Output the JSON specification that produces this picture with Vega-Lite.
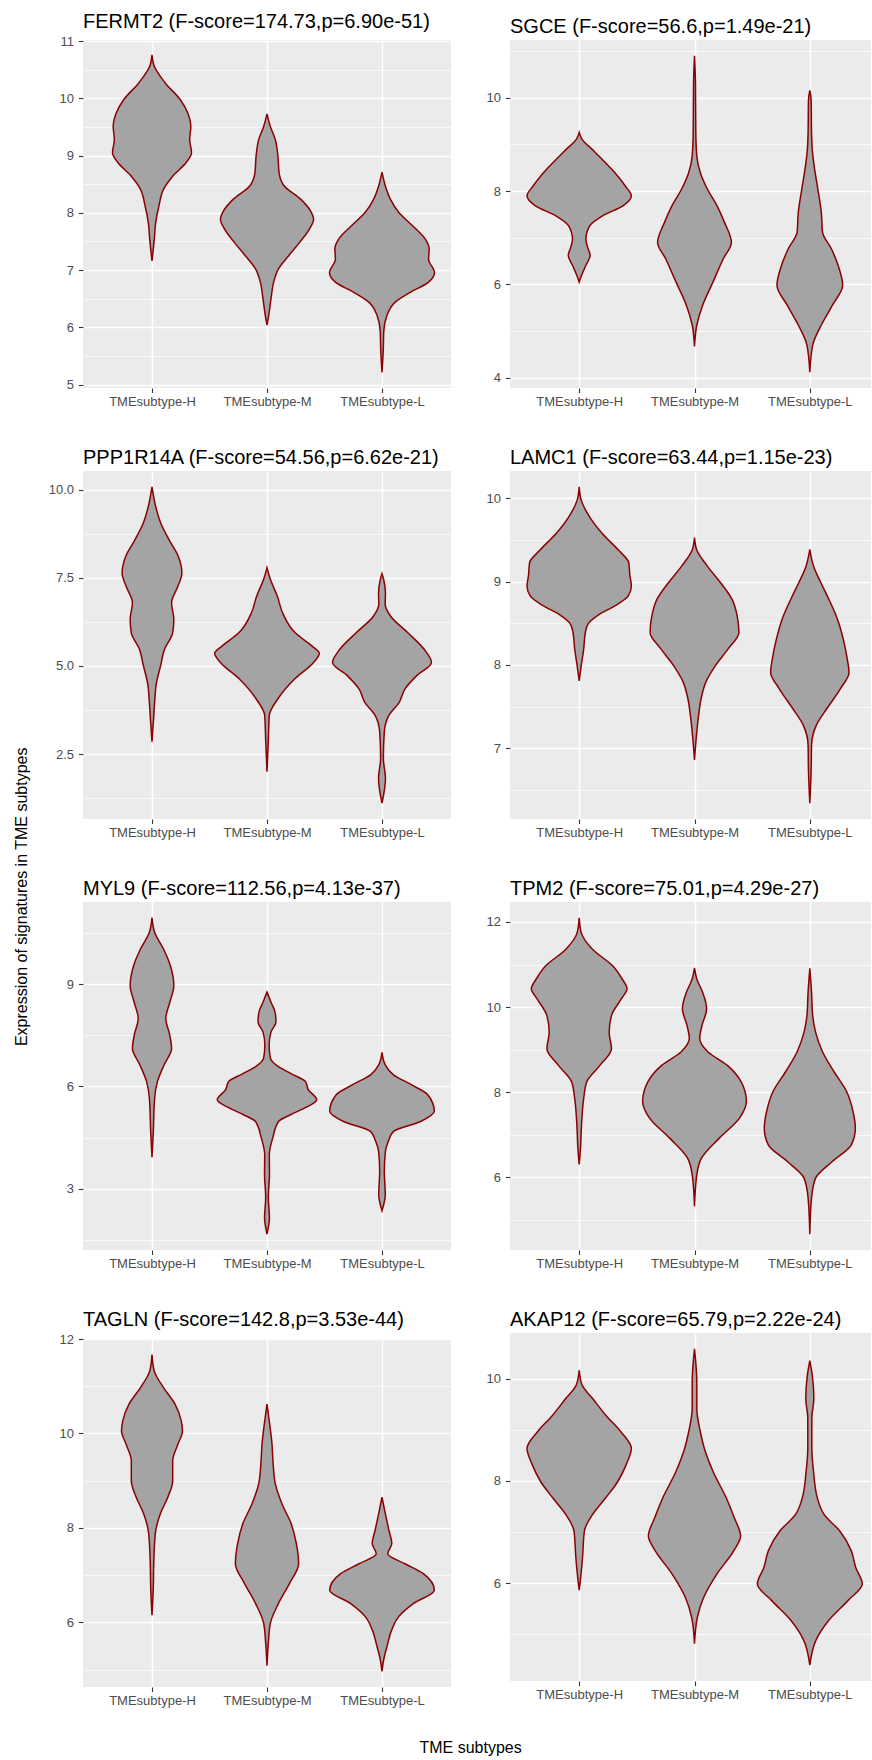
{
"$schema":"https://vega.github.io/schema/vega-lite/v6.json",
"padding":{"left":14,"top":12,"right":0,"bottom":2},
"title":{"text":"Expression of signatures in TME subtypes","orient":"left","anchor":"middle","frame":"bounds","fontSize":16,"baseline":"bottom","offset":2,"dx":-13},
"datasets":{"violin":[
{"gene":"FERMT2","subtype":"TMEsubtype-H","value":10.76,"density":0},{"gene":"FERMT2","subtype":"TMEsubtype-H","value":10.56,"density":0.04},{"gene":"FERMT2","subtype":"TMEsubtype-H","value":10.27,"density":0.23},{"gene":"FERMT2","subtype":"TMEsubtype-H","value":9.98,"density":0.49},{"gene":"FERMT2","subtype":"TMEsubtype-H","value":9.75,"density":0.62},{"gene":"FERMT2","subtype":"TMEsubtype-H","value":9.51,"density":0.675},{"gene":"FERMT2","subtype":"TMEsubtype-H","value":9.28,"density":0.655},{"gene":"FERMT2","subtype":"TMEsubtype-H","value":9.05,"density":0.687},{"gene":"FERMT2","subtype":"TMEsubtype-H","value":8.88,"density":0.594},{"gene":"FERMT2","subtype":"TMEsubtype-H","value":8.64,"density":0.36},{"gene":"FERMT2","subtype":"TMEsubtype-H","value":8.41,"density":0.2},{"gene":"FERMT2","subtype":"TMEsubtype-H","value":8.12,"density":0.12},{"gene":"FERMT2","subtype":"TMEsubtype-H","value":7.83,"density":0.064},{"gene":"FERMT2","subtype":"TMEsubtype-H","value":7.54,"density":0.04},{"gene":"FERMT2","subtype":"TMEsubtype-H","value":7.16,"density":0},
{"gene":"FERMT2","subtype":"TMEsubtype-M","value":9.73,"density":0},{"gene":"FERMT2","subtype":"TMEsubtype-M","value":9.51,"density":0.058},{"gene":"FERMT2","subtype":"TMEsubtype-M","value":9.28,"density":0.145},{"gene":"FERMT2","subtype":"TMEsubtype-M","value":8.99,"density":0.19},{"gene":"FERMT2","subtype":"TMEsubtype-M","value":8.7,"density":0.21},{"gene":"FERMT2","subtype":"TMEsubtype-M","value":8.47,"density":0.3},{"gene":"FERMT2","subtype":"TMEsubtype-M","value":8.24,"density":0.585},{"gene":"FERMT2","subtype":"TMEsubtype-M","value":8.01,"density":0.77},{"gene":"FERMT2","subtype":"TMEsubtype-M","value":7.89,"density":0.81},{"gene":"FERMT2","subtype":"TMEsubtype-M","value":7.72,"density":0.74},{"gene":"FERMT2","subtype":"TMEsubtype-M","value":7.48,"density":0.565},{"gene":"FERMT2","subtype":"TMEsubtype-M","value":7.25,"density":0.377},{"gene":"FERMT2","subtype":"TMEsubtype-M","value":7.02,"density":0.2},{"gene":"FERMT2","subtype":"TMEsubtype-M","value":6.79,"density":0.116},{"gene":"FERMT2","subtype":"TMEsubtype-M","value":6.5,"density":0.07},{"gene":"FERMT2","subtype":"TMEsubtype-M","value":6.21,"density":0.03},{"gene":"FERMT2","subtype":"TMEsubtype-M","value":6.04,"density":0},
{"gene":"FERMT2","subtype":"TMEsubtype-L","value":8.71,"density":0},{"gene":"FERMT2","subtype":"TMEsubtype-L","value":8.47,"density":0.058},{"gene":"FERMT2","subtype":"TMEsubtype-L","value":8.24,"density":0.145},{"gene":"FERMT2","subtype":"TMEsubtype-L","value":8.01,"density":0.29},{"gene":"FERMT2","subtype":"TMEsubtype-L","value":7.77,"density":0.536},{"gene":"FERMT2","subtype":"TMEsubtype-L","value":7.54,"density":0.754},{"gene":"FERMT2","subtype":"TMEsubtype-L","value":7.37,"density":0.82},{"gene":"FERMT2","subtype":"TMEsubtype-L","value":7.19,"density":0.81},{"gene":"FERMT2","subtype":"TMEsubtype-L","value":6.96,"density":0.913},{"gene":"FERMT2","subtype":"TMEsubtype-L","value":6.79,"density":0.81},{"gene":"FERMT2","subtype":"TMEsubtype-L","value":6.61,"density":0.49},{"gene":"FERMT2","subtype":"TMEsubtype-L","value":6.44,"density":0.23},{"gene":"FERMT2","subtype":"TMEsubtype-L","value":6.21,"density":0.087},{"gene":"FERMT2","subtype":"TMEsubtype-L","value":5.92,"density":0.03},{"gene":"FERMT2","subtype":"TMEsubtype-L","value":5.63,"density":0.023},{"gene":"FERMT2","subtype":"TMEsubtype-L","value":5.21,"density":0},
{"gene":"SGCE","subtype":"TMEsubtype-H","value":9.26,"density":0},{"gene":"SGCE","subtype":"TMEsubtype-H","value":9.11,"density":0.05},{"gene":"SGCE","subtype":"TMEsubtype-H","value":8.89,"density":0.23},{"gene":"SGCE","subtype":"TMEsubtype-H","value":8.68,"density":0.4},{"gene":"SGCE","subtype":"TMEsubtype-H","value":8.4,"density":0.616},{"gene":"SGCE","subtype":"TMEsubtype-H","value":8.11,"density":0.8},{"gene":"SGCE","subtype":"TMEsubtype-H","value":7.9,"density":0.905},{"gene":"SGCE","subtype":"TMEsubtype-H","value":7.69,"density":0.766},{"gene":"SGCE","subtype":"TMEsubtype-H","value":7.47,"density":0.405},{"gene":"SGCE","subtype":"TMEsubtype-H","value":7.26,"density":0.185},{"gene":"SGCE","subtype":"TMEsubtype-H","value":6.97,"density":0.116},{"gene":"SGCE","subtype":"TMEsubtype-H","value":6.8,"density":0.145},{"gene":"SGCE","subtype":"TMEsubtype-H","value":6.62,"density":0.19},{"gene":"SGCE","subtype":"TMEsubtype-H","value":6.41,"density":0.116},{"gene":"SGCE","subtype":"TMEsubtype-H","value":6.19,"density":0.04},{"gene":"SGCE","subtype":"TMEsubtype-H","value":6.05,"density":0},
{"gene":"SGCE","subtype":"TMEsubtype-M","value":10.9,"density":0},{"gene":"SGCE","subtype":"TMEsubtype-M","value":10.31,"density":0.017},{"gene":"SGCE","subtype":"TMEsubtype-M","value":9.25,"density":0.023},{"gene":"SGCE","subtype":"TMEsubtype-M","value":8.75,"density":0.04},{"gene":"SGCE","subtype":"TMEsubtype-M","value":8.4,"density":0.1},{"gene":"SGCE","subtype":"TMEsubtype-M","value":8.04,"density":0.225},{"gene":"SGCE","subtype":"TMEsubtype-M","value":7.69,"density":0.39},{"gene":"SGCE","subtype":"TMEsubtype-M","value":7.33,"density":0.52},{"gene":"SGCE","subtype":"TMEsubtype-M","value":6.9,"density":0.64},{"gene":"SGCE","subtype":"TMEsubtype-M","value":6.55,"density":0.5},{"gene":"SGCE","subtype":"TMEsubtype-M","value":6.05,"density":0.32},{"gene":"SGCE","subtype":"TMEsubtype-M","value":5.55,"density":0.14},{"gene":"SGCE","subtype":"TMEsubtype-M","value":5.13,"density":0.04},{"gene":"SGCE","subtype":"TMEsubtype-M","value":4.67,"density":0},
{"gene":"SGCE","subtype":"TMEsubtype-L","value":10.16,"density":0},{"gene":"SGCE","subtype":"TMEsubtype-L","value":9.96,"density":0.023},{"gene":"SGCE","subtype":"TMEsubtype-L","value":9.25,"density":0.03},{"gene":"SGCE","subtype":"TMEsubtype-L","value":8.89,"density":0.043},{"gene":"SGCE","subtype":"TMEsubtype-L","value":8.54,"density":0.075},{"gene":"SGCE","subtype":"TMEsubtype-L","value":8.04,"density":0.14},{"gene":"SGCE","subtype":"TMEsubtype-L","value":7.54,"density":0.2},{"gene":"SGCE","subtype":"TMEsubtype-L","value":7.12,"density":0.22},{"gene":"SGCE","subtype":"TMEsubtype-L","value":6.76,"density":0.376},{"gene":"SGCE","subtype":"TMEsubtype-L","value":6.41,"density":0.49},{"gene":"SGCE","subtype":"TMEsubtype-L","value":5.98,"density":0.57},{"gene":"SGCE","subtype":"TMEsubtype-L","value":5.55,"density":0.39},{"gene":"SGCE","subtype":"TMEsubtype-L","value":5.13,"density":0.2},{"gene":"SGCE","subtype":"TMEsubtype-L","value":4.7,"density":0.05},{"gene":"SGCE","subtype":"TMEsubtype-L","value":4.12,"density":0},
{"gene":"PPP1R14A","subtype":"TMEsubtype-H","value":10.08,"density":0},{"gene":"PPP1R14A","subtype":"TMEsubtype-H","value":9.51,"density":0.066},{"gene":"PPP1R14A","subtype":"TMEsubtype-H","value":9.04,"density":0.155},{"gene":"PPP1R14A","subtype":"TMEsubtype-H","value":8.57,"density":0.3},{"gene":"PPP1R14A","subtype":"TMEsubtype-H","value":8.1,"density":0.46},{"gene":"PPP1R14A","subtype":"TMEsubtype-H","value":7.63,"density":0.52},{"gene":"PPP1R14A","subtype":"TMEsubtype-H","value":7.26,"density":0.45},{"gene":"PPP1R14A","subtype":"TMEsubtype-H","value":6.79,"density":0.34},{"gene":"PPP1R14A","subtype":"TMEsubtype-H","value":6.32,"density":0.38},{"gene":"PPP1R14A","subtype":"TMEsubtype-H","value":5.94,"density":0.36},{"gene":"PPP1R14A","subtype":"TMEsubtype-H","value":5.48,"density":0.22},{"gene":"PPP1R14A","subtype":"TMEsubtype-H","value":5.01,"density":0.15},{"gene":"PPP1R14A","subtype":"TMEsubtype-H","value":4.45,"density":0.07},{"gene":"PPP1R14A","subtype":"TMEsubtype-H","value":4.07,"density":0.05},{"gene":"PPP1R14A","subtype":"TMEsubtype-H","value":3.41,"density":0.024},{"gene":"PPP1R14A","subtype":"TMEsubtype-H","value":2.85,"density":0},
{"gene":"PPP1R14A","subtype":"TMEsubtype-M","value":7.79,"density":0},{"gene":"PPP1R14A","subtype":"TMEsubtype-M","value":7.45,"density":0.06},{"gene":"PPP1R14A","subtype":"TMEsubtype-M","value":6.98,"density":0.18},{"gene":"PPP1R14A","subtype":"TMEsubtype-M","value":6.51,"density":0.27},{"gene":"PPP1R14A","subtype":"TMEsubtype-M","value":5.94,"density":0.49},{"gene":"PPP1R14A","subtype":"TMEsubtype-M","value":5.57,"density":0.78},{"gene":"PPP1R14A","subtype":"TMEsubtype-M","value":5.36,"density":0.91},{"gene":"PPP1R14A","subtype":"TMEsubtype-M","value":5.1,"density":0.81},{"gene":"PPP1R14A","subtype":"TMEsubtype-M","value":4.63,"density":0.48},{"gene":"PPP1R14A","subtype":"TMEsubtype-M","value":4.07,"density":0.19},{"gene":"PPP1R14A","subtype":"TMEsubtype-M","value":3.6,"density":0.04},{"gene":"PPP1R14A","subtype":"TMEsubtype-M","value":2.94,"density":0.024},{"gene":"PPP1R14A","subtype":"TMEsubtype-M","value":2.0,"density":0},
{"gene":"PPP1R14A","subtype":"TMEsubtype-L","value":7.62,"density":0},{"gene":"PPP1R14A","subtype":"TMEsubtype-L","value":7.45,"density":0.03},{"gene":"PPP1R14A","subtype":"TMEsubtype-L","value":7.07,"density":0.06},{"gene":"PPP1R14A","subtype":"TMEsubtype-L","value":6.75,"density":0.055},{"gene":"PPP1R14A","subtype":"TMEsubtype-L","value":6.41,"density":0.15},{"gene":"PPP1R14A","subtype":"TMEsubtype-L","value":5.94,"density":0.45},{"gene":"PPP1R14A","subtype":"TMEsubtype-L","value":5.48,"density":0.73},{"gene":"PPP1R14A","subtype":"TMEsubtype-L","value":5.1,"density":0.86},{"gene":"PPP1R14A","subtype":"TMEsubtype-L","value":4.72,"density":0.6},{"gene":"PPP1R14A","subtype":"TMEsubtype-L","value":4.35,"density":0.4},{"gene":"PPP1R14A","subtype":"TMEsubtype-L","value":3.97,"density":0.3},{"gene":"PPP1R14A","subtype":"TMEsubtype-L","value":3.6,"density":0.12},{"gene":"PPP1R14A","subtype":"TMEsubtype-L","value":3.13,"density":0.04},{"gene":"PPP1R14A","subtype":"TMEsubtype-L","value":2.38,"density":0.024},{"gene":"PPP1R14A","subtype":"TMEsubtype-L","value":1.81,"density":0.06},{"gene":"PPP1R14A","subtype":"TMEsubtype-L","value":1.11,"density":0},
{"gene":"LAMC1","subtype":"TMEsubtype-H","value":10.14,"density":0},{"gene":"LAMC1","subtype":"TMEsubtype-H","value":9.98,"density":0.035},{"gene":"LAMC1","subtype":"TMEsubtype-H","value":9.78,"density":0.18},{"gene":"LAMC1","subtype":"TMEsubtype-H","value":9.58,"density":0.4},{"gene":"LAMC1","subtype":"TMEsubtype-H","value":9.38,"density":0.68},{"gene":"LAMC1","subtype":"TMEsubtype-H","value":9.23,"density":0.86},{"gene":"LAMC1","subtype":"TMEsubtype-H","value":9.07,"density":0.88},{"gene":"LAMC1","subtype":"TMEsubtype-H","value":8.95,"density":0.905},{"gene":"LAMC1","subtype":"TMEsubtype-H","value":8.83,"density":0.85},{"gene":"LAMC1","subtype":"TMEsubtype-H","value":8.71,"density":0.62},{"gene":"LAMC1","subtype":"TMEsubtype-H","value":8.6,"density":0.33},{"gene":"LAMC1","subtype":"TMEsubtype-H","value":8.5,"density":0.16},{"gene":"LAMC1","subtype":"TMEsubtype-H","value":8.39,"density":0.107},{"gene":"LAMC1","subtype":"TMEsubtype-H","value":8.19,"density":0.078},{"gene":"LAMC1","subtype":"TMEsubtype-H","value":7.99,"density":0.035},{"gene":"LAMC1","subtype":"TMEsubtype-H","value":7.81,"density":0},
{"gene":"LAMC1","subtype":"TMEsubtype-M","value":9.53,"density":0},{"gene":"LAMC1","subtype":"TMEsubtype-M","value":9.38,"density":0.04},{"gene":"LAMC1","subtype":"TMEsubtype-M","value":9.19,"density":0.22},{"gene":"LAMC1","subtype":"TMEsubtype-M","value":8.99,"density":0.45},{"gene":"LAMC1","subtype":"TMEsubtype-M","value":8.79,"density":0.65},{"gene":"LAMC1","subtype":"TMEsubtype-M","value":8.59,"density":0.74},{"gene":"LAMC1","subtype":"TMEsubtype-M","value":8.39,"density":0.77},{"gene":"LAMC1","subtype":"TMEsubtype-M","value":8.19,"density":0.58},{"gene":"LAMC1","subtype":"TMEsubtype-M","value":7.99,"density":0.36},{"gene":"LAMC1","subtype":"TMEsubtype-M","value":7.8,"density":0.2},{"gene":"LAMC1","subtype":"TMEsubtype-M","value":7.6,"density":0.116},{"gene":"LAMC1","subtype":"TMEsubtype-M","value":7.4,"density":0.072},{"gene":"LAMC1","subtype":"TMEsubtype-M","value":7.12,"density":0.03},{"gene":"LAMC1","subtype":"TMEsubtype-M","value":6.86,"density":0},
{"gene":"LAMC1","subtype":"TMEsubtype-L","value":9.39,"density":0},{"gene":"LAMC1","subtype":"TMEsubtype-L","value":9.19,"density":0.064},{"gene":"LAMC1","subtype":"TMEsubtype-L","value":8.99,"density":0.19},{"gene":"LAMC1","subtype":"TMEsubtype-L","value":8.79,"density":0.33},{"gene":"LAMC1","subtype":"TMEsubtype-L","value":8.55,"density":0.48},{"gene":"LAMC1","subtype":"TMEsubtype-L","value":8.31,"density":0.58},{"gene":"LAMC1","subtype":"TMEsubtype-L","value":8.07,"density":0.65},{"gene":"LAMC1","subtype":"TMEsubtype-L","value":7.91,"density":0.68},{"gene":"LAMC1","subtype":"TMEsubtype-L","value":7.72,"density":0.535},{"gene":"LAMC1","subtype":"TMEsubtype-L","value":7.48,"density":0.3},{"gene":"LAMC1","subtype":"TMEsubtype-L","value":7.28,"density":0.116},{"gene":"LAMC1","subtype":"TMEsubtype-L","value":7.04,"density":0.03},{"gene":"LAMC1","subtype":"TMEsubtype-L","value":6.72,"density":0.023},{"gene":"LAMC1","subtype":"TMEsubtype-L","value":6.34,"density":0},
{"gene":"MYL9","subtype":"TMEsubtype-H","value":10.95,"density":0},{"gene":"MYL9","subtype":"TMEsubtype-H","value":10.52,"density":0.045},{"gene":"MYL9","subtype":"TMEsubtype-H","value":10.03,"density":0.2},{"gene":"MYL9","subtype":"TMEsubtype-H","value":9.54,"density":0.32},{"gene":"MYL9","subtype":"TMEsubtype-H","value":8.96,"density":0.38},{"gene":"MYL9","subtype":"TMEsubtype-H","value":8.47,"density":0.31},{"gene":"MYL9","subtype":"TMEsubtype-H","value":7.99,"density":0.24},{"gene":"MYL9","subtype":"TMEsubtype-H","value":7.5,"density":0.31},{"gene":"MYL9","subtype":"TMEsubtype-H","value":7.11,"density":0.34},{"gene":"MYL9","subtype":"TMEsubtype-H","value":6.63,"density":0.21},{"gene":"MYL9","subtype":"TMEsubtype-H","value":6.14,"density":0.094},{"gene":"MYL9","subtype":"TMEsubtype-H","value":5.65,"density":0.045},{"gene":"MYL9","subtype":"TMEsubtype-H","value":4.68,"density":0.023},{"gene":"MYL9","subtype":"TMEsubtype-H","value":3.92,"density":0},
{"gene":"MYL9","subtype":"TMEsubtype-M","value":8.77,"density":0},{"gene":"MYL9","subtype":"TMEsubtype-M","value":8.47,"density":0.07},{"gene":"MYL9","subtype":"TMEsubtype-M","value":8.18,"density":0.14},{"gene":"MYL9","subtype":"TMEsubtype-M","value":7.89,"density":0.156},{"gene":"MYL9","subtype":"TMEsubtype-M","value":7.6,"density":0.07},{"gene":"MYL9","subtype":"TMEsubtype-M","value":7.21,"density":0.037},{"gene":"MYL9","subtype":"TMEsubtype-M","value":6.82,"density":0.06},{"gene":"MYL9","subtype":"TMEsubtype-M","value":6.6,"density":0.18},{"gene":"MYL9","subtype":"TMEsubtype-M","value":6.38,"density":0.41},{"gene":"MYL9","subtype":"TMEsubtype-M","value":6.14,"density":0.67},{"gene":"MYL9","subtype":"TMEsubtype-M","value":5.9,"density":0.72},{"gene":"MYL9","subtype":"TMEsubtype-M","value":5.61,"density":0.865},{"gene":"MYL9","subtype":"TMEsubtype-M","value":5.36,"density":0.65},{"gene":"MYL9","subtype":"TMEsubtype-M","value":5.16,"density":0.4},{"gene":"MYL9","subtype":"TMEsubtype-M","value":4.97,"density":0.2},{"gene":"MYL9","subtype":"TMEsubtype-M","value":4.49,"density":0.1},{"gene":"MYL9","subtype":"TMEsubtype-M","value":4.0,"density":0.04},{"gene":"MYL9","subtype":"TMEsubtype-M","value":3.42,"density":0.043},{"gene":"MYL9","subtype":"TMEsubtype-M","value":2.74,"density":0.023},{"gene":"MYL9","subtype":"TMEsubtype-M","value":2.15,"density":0.043},{"gene":"MYL9","subtype":"TMEsubtype-M","value":1.67,"density":0},
{"gene":"MYL9","subtype":"TMEsubtype-L","value":7.0,"density":0},{"gene":"MYL9","subtype":"TMEsubtype-L","value":6.63,"density":0.057},{"gene":"MYL9","subtype":"TMEsubtype-L","value":6.34,"density":0.2},{"gene":"MYL9","subtype":"TMEsubtype-L","value":6.05,"density":0.51},{"gene":"MYL9","subtype":"TMEsubtype-L","value":5.75,"density":0.8},{"gene":"MYL9","subtype":"TMEsubtype-L","value":5.27,"density":0.91},{"gene":"MYL9","subtype":"TMEsubtype-L","value":4.97,"density":0.67},{"gene":"MYL9","subtype":"TMEsubtype-L","value":4.68,"density":0.2},{"gene":"MYL9","subtype":"TMEsubtype-L","value":4.39,"density":0.11},{"gene":"MYL9","subtype":"TMEsubtype-L","value":4.1,"density":0.06},{"gene":"MYL9","subtype":"TMEsubtype-L","value":3.52,"density":0.04},{"gene":"MYL9","subtype":"TMEsubtype-L","value":2.83,"density":0.057},{"gene":"MYL9","subtype":"TMEsubtype-L","value":2.35,"density":0},
{"gene":"TPM2","subtype":"TMEsubtype-H","value":12.1,"density":0},{"gene":"TPM2","subtype":"TMEsubtype-H","value":11.75,"density":0.035},{"gene":"TPM2","subtype":"TMEsubtype-H","value":11.36,"density":0.23},{"gene":"TPM2","subtype":"TMEsubtype-H","value":10.97,"density":0.58},{"gene":"TPM2","subtype":"TMEsubtype-H","value":10.66,"density":0.745},{"gene":"TPM2","subtype":"TMEsubtype-H","value":10.43,"density":0.83},{"gene":"TPM2","subtype":"TMEsubtype-H","value":10.19,"density":0.73},{"gene":"TPM2","subtype":"TMEsubtype-H","value":9.8,"density":0.56},{"gene":"TPM2","subtype":"TMEsubtype-H","value":9.41,"density":0.52},{"gene":"TPM2","subtype":"TMEsubtype-H","value":9.02,"density":0.56},{"gene":"TPM2","subtype":"TMEsubtype-H","value":8.63,"density":0.36},{"gene":"TPM2","subtype":"TMEsubtype-H","value":8.24,"density":0.13},{"gene":"TPM2","subtype":"TMEsubtype-H","value":7.85,"density":0.078},{"gene":"TPM2","subtype":"TMEsubtype-H","value":7.23,"density":0.04},{"gene":"TPM2","subtype":"TMEsubtype-H","value":6.76,"density":0.026},{"gene":"TPM2","subtype":"TMEsubtype-H","value":6.3,"density":0},
{"gene":"TPM2","subtype":"TMEsubtype-M","value":10.92,"density":0},{"gene":"TPM2","subtype":"TMEsubtype-M","value":10.66,"density":0.04},{"gene":"TPM2","subtype":"TMEsubtype-M","value":10.35,"density":0.14},{"gene":"TPM2","subtype":"TMEsubtype-M","value":9.96,"density":0.21},{"gene":"TPM2","subtype":"TMEsubtype-M","value":9.57,"density":0.13},{"gene":"TPM2","subtype":"TMEsubtype-M","value":9.26,"density":0.09},{"gene":"TPM2","subtype":"TMEsubtype-M","value":8.95,"density":0.23},{"gene":"TPM2","subtype":"TMEsubtype-M","value":8.63,"density":0.57},{"gene":"TPM2","subtype":"TMEsubtype-M","value":8.24,"density":0.81},{"gene":"TPM2","subtype":"TMEsubtype-M","value":7.78,"density":0.9},{"gene":"TPM2","subtype":"TMEsubtype-M","value":7.39,"density":0.78},{"gene":"TPM2","subtype":"TMEsubtype-M","value":6.92,"density":0.43},{"gene":"TPM2","subtype":"TMEsubtype-M","value":6.45,"density":0.12},{"gene":"TPM2","subtype":"TMEsubtype-M","value":6.06,"density":0.04},{"gene":"TPM2","subtype":"TMEsubtype-M","value":5.32,"density":0},
{"gene":"TPM2","subtype":"TMEsubtype-L","value":10.91,"density":0},{"gene":"TPM2","subtype":"TMEsubtype-L","value":10.35,"density":0.03},{"gene":"TPM2","subtype":"TMEsubtype-L","value":9.8,"density":0.05},{"gene":"TPM2","subtype":"TMEsubtype-L","value":9.41,"density":0.1},{"gene":"TPM2","subtype":"TMEsubtype-L","value":8.95,"density":0.22},{"gene":"TPM2","subtype":"TMEsubtype-L","value":8.48,"density":0.42},{"gene":"TPM2","subtype":"TMEsubtype-L","value":8.01,"density":0.64},{"gene":"TPM2","subtype":"TMEsubtype-L","value":7.54,"density":0.75},{"gene":"TPM2","subtype":"TMEsubtype-L","value":7.15,"density":0.79},{"gene":"TPM2","subtype":"TMEsubtype-L","value":6.76,"density":0.72},{"gene":"TPM2","subtype":"TMEsubtype-L","value":6.37,"density":0.39},{"gene":"TPM2","subtype":"TMEsubtype-L","value":5.98,"density":0.1},{"gene":"TPM2","subtype":"TMEsubtype-L","value":5.52,"density":0.03},{"gene":"TPM2","subtype":"TMEsubtype-L","value":4.66,"density":0},
{"gene":"TAGLN","subtype":"TMEsubtype-H","value":11.67,"density":0},{"gene":"TAGLN","subtype":"TMEsubtype-H","value":11.32,"density":0.04},{"gene":"TAGLN","subtype":"TMEsubtype-H","value":10.97,"density":0.2},{"gene":"TAGLN","subtype":"TMEsubtype-H","value":10.62,"density":0.4},{"gene":"TAGLN","subtype":"TMEsubtype-H","value":10.26,"density":0.51},{"gene":"TAGLN","subtype":"TMEsubtype-H","value":10.05,"density":0.53},{"gene":"TAGLN","subtype":"TMEsubtype-H","value":9.77,"density":0.45},{"gene":"TAGLN","subtype":"TMEsubtype-H","value":9.42,"density":0.36},{"gene":"TAGLN","subtype":"TMEsubtype-H","value":9.0,"density":0.36},{"gene":"TAGLN","subtype":"TMEsubtype-H","value":8.65,"density":0.275},{"gene":"TAGLN","subtype":"TMEsubtype-H","value":8.3,"density":0.145},{"gene":"TAGLN","subtype":"TMEsubtype-H","value":7.88,"density":0.058},{"gene":"TAGLN","subtype":"TMEsubtype-H","value":7.24,"density":0.03},{"gene":"TAGLN","subtype":"TMEsubtype-H","value":6.75,"density":0.023},{"gene":"TAGLN","subtype":"TMEsubtype-H","value":6.15,"density":0},
{"gene":"TAGLN","subtype":"TMEsubtype-M","value":10.62,"density":0},{"gene":"TAGLN","subtype":"TMEsubtype-M","value":10.26,"density":0.04},{"gene":"TAGLN","subtype":"TMEsubtype-M","value":9.77,"density":0.087},{"gene":"TAGLN","subtype":"TMEsubtype-M","value":9.35,"density":0.107},{"gene":"TAGLN","subtype":"TMEsubtype-M","value":8.93,"density":0.145},{"gene":"TAGLN","subtype":"TMEsubtype-M","value":8.51,"density":0.26},{"gene":"TAGLN","subtype":"TMEsubtype-M","value":8.09,"density":0.42},{"gene":"TAGLN","subtype":"TMEsubtype-M","value":7.67,"density":0.51},{"gene":"TAGLN","subtype":"TMEsubtype-M","value":7.24,"density":0.55},{"gene":"TAGLN","subtype":"TMEsubtype-M","value":6.82,"density":0.39},{"gene":"TAGLN","subtype":"TMEsubtype-M","value":6.4,"density":0.2},{"gene":"TAGLN","subtype":"TMEsubtype-M","value":5.98,"density":0.058},{"gene":"TAGLN","subtype":"TMEsubtype-M","value":5.56,"density":0.023},{"gene":"TAGLN","subtype":"TMEsubtype-M","value":5.08,"density":0},
{"gene":"TAGLN","subtype":"TMEsubtype-L","value":8.65,"density":0},{"gene":"TAGLN","subtype":"TMEsubtype-L","value":8.37,"density":0.046},{"gene":"TAGLN","subtype":"TMEsubtype-L","value":7.95,"density":0.12},{"gene":"TAGLN","subtype":"TMEsubtype-L","value":7.67,"density":0.17},{"gene":"TAGLN","subtype":"TMEsubtype-L","value":7.45,"density":0.1},{"gene":"TAGLN","subtype":"TMEsubtype-L","value":7.24,"density":0.4},{"gene":"TAGLN","subtype":"TMEsubtype-L","value":7.03,"density":0.72},{"gene":"TAGLN","subtype":"TMEsubtype-L","value":6.68,"density":0.91},{"gene":"TAGLN","subtype":"TMEsubtype-L","value":6.4,"density":0.55},{"gene":"TAGLN","subtype":"TMEsubtype-L","value":6.12,"density":0.29},{"gene":"TAGLN","subtype":"TMEsubtype-L","value":5.84,"density":0.17},{"gene":"TAGLN","subtype":"TMEsubtype-L","value":5.49,"density":0.087},{"gene":"TAGLN","subtype":"TMEsubtype-L","value":5.21,"density":0.03},{"gene":"TAGLN","subtype":"TMEsubtype-L","value":4.96,"density":0},
{"gene":"AKAP12","subtype":"TMEsubtype-H","value":10.17,"density":0},{"gene":"AKAP12","subtype":"TMEsubtype-H","value":9.88,"density":0.05},{"gene":"AKAP12","subtype":"TMEsubtype-H","value":9.62,"density":0.23},{"gene":"AKAP12","subtype":"TMEsubtype-H","value":9.29,"density":0.46},{"gene":"AKAP12","subtype":"TMEsubtype-H","value":8.97,"density":0.72},{"gene":"AKAP12","subtype":"TMEsubtype-H","value":8.64,"density":0.905},{"gene":"AKAP12","subtype":"TMEsubtype-H","value":8.32,"density":0.815},{"gene":"AKAP12","subtype":"TMEsubtype-H","value":7.99,"density":0.67},{"gene":"AKAP12","subtype":"TMEsubtype-H","value":7.67,"density":0.46},{"gene":"AKAP12","subtype":"TMEsubtype-H","value":7.34,"density":0.23},{"gene":"AKAP12","subtype":"TMEsubtype-H","value":7.02,"density":0.09},{"gene":"AKAP12","subtype":"TMEsubtype-H","value":6.5,"density":0.058},{"gene":"AKAP12","subtype":"TMEsubtype-H","value":6.11,"density":0.026},{"gene":"AKAP12","subtype":"TMEsubtype-H","value":5.86,"density":0},
{"gene":"AKAP12","subtype":"TMEsubtype-M","value":10.59,"density":0},{"gene":"AKAP12","subtype":"TMEsubtype-M","value":9.94,"density":0.04},{"gene":"AKAP12","subtype":"TMEsubtype-M","value":9.42,"density":0.04},{"gene":"AKAP12","subtype":"TMEsubtype-M","value":8.97,"density":0.1},{"gene":"AKAP12","subtype":"TMEsubtype-M","value":8.64,"density":0.17},{"gene":"AKAP12","subtype":"TMEsubtype-M","value":8.19,"density":0.32},{"gene":"AKAP12","subtype":"TMEsubtype-M","value":7.67,"density":0.55},{"gene":"AKAP12","subtype":"TMEsubtype-M","value":7.28,"density":0.69},{"gene":"AKAP12","subtype":"TMEsubtype-M","value":6.92,"density":0.8},{"gene":"AKAP12","subtype":"TMEsubtype-M","value":6.63,"density":0.68},{"gene":"AKAP12","subtype":"TMEsubtype-M","value":6.18,"density":0.39},{"gene":"AKAP12","subtype":"TMEsubtype-M","value":5.72,"density":0.16},{"gene":"AKAP12","subtype":"TMEsubtype-M","value":5.33,"density":0.05},{"gene":"AKAP12","subtype":"TMEsubtype-M","value":4.81,"density":0},
{"gene":"AKAP12","subtype":"TMEsubtype-L","value":10.36,"density":0},{"gene":"AKAP12","subtype":"TMEsubtype-L","value":10.07,"density":0.043},{"gene":"AKAP12","subtype":"TMEsubtype-L","value":9.62,"density":0.07},{"gene":"AKAP12","subtype":"TMEsubtype-L","value":9.23,"density":0.035},{"gene":"AKAP12","subtype":"TMEsubtype-L","value":8.64,"density":0.035},{"gene":"AKAP12","subtype":"TMEsubtype-L","value":8.19,"density":0.064},{"gene":"AKAP12","subtype":"TMEsubtype-L","value":7.67,"density":0.13},{"gene":"AKAP12","subtype":"TMEsubtype-L","value":7.34,"density":0.25},{"gene":"AKAP12","subtype":"TMEsubtype-L","value":7.02,"density":0.52},{"gene":"AKAP12","subtype":"TMEsubtype-L","value":6.63,"density":0.72},{"gene":"AKAP12","subtype":"TMEsubtype-L","value":6.31,"density":0.795},{"gene":"AKAP12","subtype":"TMEsubtype-L","value":5.98,"density":0.91},{"gene":"AKAP12","subtype":"TMEsubtype-L","value":5.66,"density":0.665},{"gene":"AKAP12","subtype":"TMEsubtype-L","value":5.27,"density":0.33},{"gene":"AKAP12","subtype":"TMEsubtype-L","value":4.88,"density":0.107},{"gene":"AKAP12","subtype":"TMEsubtype-L","value":4.39,"density":0}
]},
"vconcat":[{
"title":{"text":"TME subtypes","orient":"bottom","anchor":"middle","frame":"bounds","fontSize":16,"baseline":"top","offset":32,"dx":7},
"spacing":35,
"hconcat":[
{"spacing":39,"vconcat":[
{"width":368,"height":348,"title":{"text":"FERMT2 (F-score=174.73,p=6.90e-51)"},"data":{"name":"violin"},"transform":[{"filter":"datum.gene === 'FERMT2'"}],
"layer":[
{"mark":{"type":"point","opacity":0},"encoding":{"x":{"field":"subtype","type":"nominal","scale":{"type":"point","padding":0.6,"domain":["TMEsubtype-H","TMEsubtype-M","TMEsubtype-L"]},"axis":{"title":null,"labelAngle":0,"grid":true}},"y":{"field":"value","type":"quantitative","scale":{"domain":[4.94,11.02],"nice":false,"zero":false},"axis":{"title":null,"values":[5,6,7,8,9,10,11],"grid":true}}}},
{"transform":[{"filter":"datum.subtype === 'TMEsubtype-H'"}],"mark":{"type":"area","orient":"horizontal","interpolate":"monotone","fill":"#A4A4A4","stroke":"#8B0000","strokeWidth":1.5},"encoding":{"x":{"field":"density","type":"quantitative","stack":"center","scale":{"domain":[-0.2565,2.9435],"nice":false,"zero":false},"axis":null},"y":{"field":"value","type":"quantitative","scale":{"domain":[4.94,11.02],"nice":false,"zero":false},"axis":{"orient":"right","title":null,"values":[5.5,6.5,7.5,8.5,9.5,10.5],"grid":true,"gridWidth":0.75,"labels":false,"ticks":false}}}},
{"transform":[{"filter":"datum.subtype === 'TMEsubtype-M'"}],"mark":{"type":"area","orient":"horizontal","interpolate":"monotone","fill":"#A4A4A4","stroke":"#8B0000","strokeWidth":1.5},"encoding":{"x":{"field":"density","type":"quantitative","stack":"center","scale":{"domain":[-1.195,2.005],"nice":false,"zero":false},"axis":null},"y":{"field":"value","type":"quantitative","scale":{"domain":[4.94,11.02],"nice":false,"zero":false},"axis":null}}},
{"transform":[{"filter":"datum.subtype === 'TMEsubtype-L'"}],"mark":{"type":"area","orient":"horizontal","interpolate":"monotone","fill":"#A4A4A4","stroke":"#8B0000","strokeWidth":1.5},"encoding":{"x":{"field":"density","type":"quantitative","stack":"center","scale":{"domain":[-2.1435,1.0565],"nice":false,"zero":false},"axis":null},"y":{"field":"value","type":"quantitative","scale":{"domain":[4.94,11.02],"nice":false,"zero":false},"axis":null}}}
],"resolve":{"scale":{"x":"independent"},"axis":{"x":"independent","y":"independent"}}},
{"width":368,"height":348,"title":{"text":"PPP1R14A (F-score=54.56,p=6.62e-21)"},"data":{"name":"violin"},"transform":[{"filter":"datum.gene === 'PPP1R14A'"}],
"layer":[
{"mark":{"type":"point","opacity":0},"encoding":{"x":{"field":"subtype","type":"nominal","scale":{"type":"point","padding":0.6,"domain":["TMEsubtype-H","TMEsubtype-M","TMEsubtype-L"]},"axis":{"title":null,"labelAngle":0,"grid":true}},"y":{"field":"value","type":"quantitative","scale":{"domain":[0.66,10.53],"nice":false,"zero":false},"axis":{"title":null,"values":[2.5,5,7.5,10],"format":".1f","grid":true}}}},
{"transform":[{"filter":"datum.subtype === 'TMEsubtype-H'"}],"mark":{"type":"area","orient":"horizontal","interpolate":"monotone","fill":"#A4A4A4","stroke":"#8B0000","strokeWidth":1.5},"encoding":{"x":{"field":"density","type":"quantitative","stack":"center","scale":{"domain":[-0.34,2.86],"nice":false,"zero":false},"axis":null},"y":{"field":"value","type":"quantitative","scale":{"domain":[0.66,10.53],"nice":false,"zero":false},"axis":{"orient":"right","title":null,"values":[1.25,3.75,6.25,8.75],"grid":true,"gridWidth":0.75,"labels":false,"ticks":false}}}},
{"transform":[{"filter":"datum.subtype === 'TMEsubtype-M'"}],"mark":{"type":"area","orient":"horizontal","interpolate":"monotone","fill":"#A4A4A4","stroke":"#8B0000","strokeWidth":1.5},"encoding":{"x":{"field":"density","type":"quantitative","stack":"center","scale":{"domain":[-1.145,2.055],"nice":false,"zero":false},"axis":null},"y":{"field":"value","type":"quantitative","scale":{"domain":[0.66,10.53],"nice":false,"zero":false},"axis":null}}},
{"transform":[{"filter":"datum.subtype === 'TMEsubtype-L'"}],"mark":{"type":"area","orient":"horizontal","interpolate":"monotone","fill":"#A4A4A4","stroke":"#8B0000","strokeWidth":1.5},"encoding":{"x":{"field":"density","type":"quantitative","stack":"center","scale":{"domain":[-2.17,1.03],"nice":false,"zero":false},"axis":null},"y":{"field":"value","type":"quantitative","scale":{"domain":[0.66,10.53],"nice":false,"zero":false},"axis":null}}}
],"resolve":{"scale":{"x":"independent"},"axis":{"x":"independent","y":"independent"}}},
{"width":368,"height":348,"title":{"text":"MYL9 (F-score=112.56,p=4.13e-37)"},"data":{"name":"violin"},"transform":[{"filter":"datum.gene === 'MYL9'"}],
"layer":[
{"mark":{"type":"point","opacity":0},"encoding":{"x":{"field":"subtype","type":"nominal","scale":{"type":"point","padding":0.6,"domain":["TMEsubtype-H","TMEsubtype-M","TMEsubtype-L"]},"axis":{"title":null,"labelAngle":0,"grid":true}},"y":{"field":"value","type":"quantitative","scale":{"domain":[1.2,11.41],"nice":false,"zero":false},"axis":{"title":null,"values":[3,6,9],"grid":true}}}},
{"transform":[{"filter":"datum.subtype === 'TMEsubtype-H'"}],"mark":{"type":"area","orient":"horizontal","interpolate":"monotone","fill":"#A4A4A4","stroke":"#8B0000","strokeWidth":1.5},"encoding":{"x":{"field":"density","type":"quantitative","stack":"center","scale":{"domain":[-0.41,2.79],"nice":false,"zero":false},"axis":null},"y":{"field":"value","type":"quantitative","scale":{"domain":[1.2,11.41],"nice":false,"zero":false},"axis":{"orient":"right","title":null,"values":[1.5,4.5,7.5,10.5],"grid":true,"gridWidth":0.75,"labels":false,"ticks":false}}}},
{"transform":[{"filter":"datum.subtype === 'TMEsubtype-M'"}],"mark":{"type":"area","orient":"horizontal","interpolate":"monotone","fill":"#A4A4A4","stroke":"#8B0000","strokeWidth":1.5},"encoding":{"x":{"field":"density","type":"quantitative","stack":"center","scale":{"domain":[-1.1675,2.0325],"nice":false,"zero":false},"axis":null},"y":{"field":"value","type":"quantitative","scale":{"domain":[1.2,11.41],"nice":false,"zero":false},"axis":null}}},
{"transform":[{"filter":"datum.subtype === 'TMEsubtype-L'"}],"mark":{"type":"area","orient":"horizontal","interpolate":"monotone","fill":"#A4A4A4","stroke":"#8B0000","strokeWidth":1.5},"encoding":{"x":{"field":"density","type":"quantitative","stack":"center","scale":{"domain":[-2.145,1.055],"nice":false,"zero":false},"axis":null},"y":{"field":"value","type":"quantitative","scale":{"domain":[1.2,11.41],"nice":false,"zero":false},"axis":null}}}
],"resolve":{"scale":{"x":"independent"},"axis":{"x":"independent","y":"independent"}}},
{"width":368,"height":348,"title":{"text":"TAGLN (F-score=142.8,p=3.53e-44)"},"data":{"name":"violin"},"transform":[{"filter":"datum.gene === 'TAGLN'"}],
"layer":[
{"mark":{"type":"point","opacity":0},"encoding":{"x":{"field":"subtype","type":"nominal","scale":{"type":"point","padding":0.6,"domain":["TMEsubtype-H","TMEsubtype-M","TMEsubtype-L"]},"axis":{"title":null,"labelAngle":0,"grid":true}},"y":{"field":"value","type":"quantitative","scale":{"domain":[4.63,12.0],"nice":false,"zero":false},"axis":{"title":null,"values":[6,8,10,12],"grid":true}}}},
{"transform":[{"filter":"datum.subtype === 'TMEsubtype-H'"}],"mark":{"type":"area","orient":"horizontal","interpolate":"monotone","fill":"#A4A4A4","stroke":"#8B0000","strokeWidth":1.5},"encoding":{"x":{"field":"density","type":"quantitative","stack":"center","scale":{"domain":[-0.335,2.865],"nice":false,"zero":false},"axis":null},"y":{"field":"value","type":"quantitative","scale":{"domain":[4.63,12.0],"nice":false,"zero":false},"axis":{"orient":"right","title":null,"values":[5,7,9,11],"grid":true,"gridWidth":0.75,"labels":false,"ticks":false}}}},
{"transform":[{"filter":"datum.subtype === 'TMEsubtype-M'"}],"mark":{"type":"area","orient":"horizontal","interpolate":"monotone","fill":"#A4A4A4","stroke":"#8B0000","strokeWidth":1.5},"encoding":{"x":{"field":"density","type":"quantitative","stack":"center","scale":{"domain":[-1.325,1.875],"nice":false,"zero":false},"axis":null},"y":{"field":"value","type":"quantitative","scale":{"domain":[4.63,12.0],"nice":false,"zero":false},"axis":null}}},
{"transform":[{"filter":"datum.subtype === 'TMEsubtype-L'"}],"mark":{"type":"area","orient":"horizontal","interpolate":"monotone","fill":"#A4A4A4","stroke":"#8B0000","strokeWidth":1.5},"encoding":{"x":{"field":"density","type":"quantitative","stack":"center","scale":{"domain":[-2.145,1.055],"nice":false,"zero":false},"axis":null},"y":{"field":"value","type":"quantitative","scale":{"domain":[4.63,12.0],"nice":false,"zero":false},"axis":null}}}
],"resolve":{"scale":{"x":"independent"},"axis":{"x":"independent","y":"independent"}}}
]},
{"spacing":39,"vconcat":[
{"width":361,"height":348,"title":{"text":"SGCE (F-score=56.6,p=1.49e-21)"},"data":{"name":"violin"},"transform":[{"filter":"datum.gene === 'SGCE'"}],
"layer":[
{"mark":{"type":"point","opacity":0},"encoding":{"x":{"field":"subtype","type":"nominal","scale":{"type":"point","padding":0.6,"range":[0,369],"domain":["TMEsubtype-H","TMEsubtype-M","TMEsubtype-L"]},"axis":{"title":null,"labelAngle":0,"grid":true}},"y":{"field":"value","type":"quantitative","scale":{"domain":[3.78,11.24],"nice":false,"zero":false},"axis":{"title":null,"values":[4,6,8,10],"grid":true}}}},
{"transform":[{"filter":"datum.subtype === 'TMEsubtype-H'"}],"mark":{"type":"area","orient":"horizontal","interpolate":"monotone","fill":"#A4A4A4","stroke":"#8B0000","strokeWidth":1.5},"encoding":{"x":{"field":"density","type":"quantitative","stack":"center","scale":{"domain":[-0.1475,3.0525],"range":[0,369],"nice":false,"zero":false},"axis":null},"y":{"field":"value","type":"quantitative","scale":{"domain":[3.78,11.24],"nice":false,"zero":false},"axis":{"orient":"right","title":null,"values":[5,7,9,11],"grid":true,"gridWidth":0.75,"labels":false,"ticks":false}}}},
{"transform":[{"filter":"datum.subtype === 'TMEsubtype-M'"}],"mark":{"type":"area","orient":"horizontal","interpolate":"monotone","fill":"#A4A4A4","stroke":"#8B0000","strokeWidth":1.5},"encoding":{"x":{"field":"density","type":"quantitative","stack":"center","scale":{"domain":[-1.28,1.92],"range":[0,369],"nice":false,"zero":false},"axis":null},"y":{"field":"value","type":"quantitative","scale":{"domain":[3.78,11.24],"nice":false,"zero":false},"axis":null}}},
{"transform":[{"filter":"datum.subtype === 'TMEsubtype-L'"}],"mark":{"type":"area","orient":"horizontal","interpolate":"monotone","fill":"#A4A4A4","stroke":"#8B0000","strokeWidth":1.5},"encoding":{"x":{"field":"density","type":"quantitative","stack":"center","scale":{"domain":[-2.315,0.885],"range":[0,369],"nice":false,"zero":false},"axis":null},"y":{"field":"value","type":"quantitative","scale":{"domain":[3.78,11.24],"nice":false,"zero":false},"axis":null}}}
],"resolve":{"scale":{"x":"independent"},"axis":{"x":"independent","y":"independent"}}},
{"width":361,"height":348,"title":{"text":"LAMC1 (F-score=63.44,p=1.15e-23)"},"data":{"name":"violin"},"transform":[{"filter":"datum.gene === 'LAMC1'"}],
"layer":[
{"mark":{"type":"point","opacity":0},"encoding":{"x":{"field":"subtype","type":"nominal","scale":{"type":"point","padding":0.6,"range":[0,369],"domain":["TMEsubtype-H","TMEsubtype-M","TMEsubtype-L"]},"axis":{"title":null,"labelAngle":0,"grid":true}},"y":{"field":"value","type":"quantitative","scale":{"domain":[6.15,10.33],"nice":false,"zero":false},"axis":{"title":null,"values":[7,8,9,10],"grid":true}}}},
{"transform":[{"filter":"datum.subtype === 'TMEsubtype-H'"}],"mark":{"type":"area","orient":"horizontal","interpolate":"monotone","fill":"#A4A4A4","stroke":"#8B0000","strokeWidth":1.5},"encoding":{"x":{"field":"density","type":"quantitative","stack":"center","scale":{"domain":[-0.1475,3.0525],"range":[0,369],"nice":false,"zero":false},"axis":null},"y":{"field":"value","type":"quantitative","scale":{"domain":[6.15,10.33],"nice":false,"zero":false},"axis":{"orient":"right","title":null,"values":[6.5,7.5,8.5,9.5],"grid":true,"gridWidth":0.75,"labels":false,"ticks":false}}}},
{"transform":[{"filter":"datum.subtype === 'TMEsubtype-M'"}],"mark":{"type":"area","orient":"horizontal","interpolate":"monotone","fill":"#A4A4A4","stroke":"#8B0000","strokeWidth":1.5},"encoding":{"x":{"field":"density","type":"quantitative","stack":"center","scale":{"domain":[-1.215,1.985],"range":[0,369],"nice":false,"zero":false},"axis":null},"y":{"field":"value","type":"quantitative","scale":{"domain":[6.15,10.33],"nice":false,"zero":false},"axis":null}}},
{"transform":[{"filter":"datum.subtype === 'TMEsubtype-L'"}],"mark":{"type":"area","orient":"horizontal","interpolate":"monotone","fill":"#A4A4A4","stroke":"#8B0000","strokeWidth":1.5},"encoding":{"x":{"field":"density","type":"quantitative","stack":"center","scale":{"domain":[-2.26,0.94],"range":[0,369],"nice":false,"zero":false},"axis":null},"y":{"field":"value","type":"quantitative","scale":{"domain":[6.15,10.33],"nice":false,"zero":false},"axis":null}}}
],"resolve":{"scale":{"x":"independent"},"axis":{"x":"independent","y":"independent"}}},
{"width":361,"height":348,"title":{"text":"TPM2 (F-score=75.01,p=4.29e-27)"},"data":{"name":"violin"},"transform":[{"filter":"datum.gene === 'TPM2'"}],
"layer":[
{"mark":{"type":"point","opacity":0},"encoding":{"x":{"field":"subtype","type":"nominal","scale":{"type":"point","padding":0.6,"range":[0,369],"domain":["TMEsubtype-H","TMEsubtype-M","TMEsubtype-L"]},"axis":{"title":null,"labelAngle":0,"grid":true}},"y":{"field":"value","type":"quantitative","scale":{"domain":[4.29,12.47],"nice":false,"zero":false},"axis":{"title":null,"values":[6,8,10,12],"grid":true}}}},
{"transform":[{"filter":"datum.subtype === 'TMEsubtype-H'"}],"mark":{"type":"area","orient":"horizontal","interpolate":"monotone","fill":"#A4A4A4","stroke":"#8B0000","strokeWidth":1.5},"encoding":{"x":{"field":"density","type":"quantitative","stack":"center","scale":{"domain":[-0.185,3.015],"range":[0,369],"nice":false,"zero":false},"axis":null},"y":{"field":"value","type":"quantitative","scale":{"domain":[4.29,12.47],"nice":false,"zero":false},"axis":{"orient":"right","title":null,"values":[5,7,9,11],"grid":true,"gridWidth":0.75,"labels":false,"ticks":false}}}},
{"transform":[{"filter":"datum.subtype === 'TMEsubtype-M'"}],"mark":{"type":"area","orient":"horizontal","interpolate":"monotone","fill":"#A4A4A4","stroke":"#8B0000","strokeWidth":1.5},"encoding":{"x":{"field":"density","type":"quantitative","stack":"center","scale":{"domain":[-1.15,2.05],"range":[0,369],"nice":false,"zero":false},"axis":null},"y":{"field":"value","type":"quantitative","scale":{"domain":[4.29,12.47],"nice":false,"zero":false},"axis":null}}},
{"transform":[{"filter":"datum.subtype === 'TMEsubtype-L'"}],"mark":{"type":"area","orient":"horizontal","interpolate":"monotone","fill":"#A4A4A4","stroke":"#8B0000","strokeWidth":1.5},"encoding":{"x":{"field":"density","type":"quantitative","stack":"center","scale":{"domain":[-2.205,0.995],"range":[0,369],"nice":false,"zero":false},"axis":null},"y":{"field":"value","type":"quantitative","scale":{"domain":[4.29,12.47],"nice":false,"zero":false},"axis":null}}}
],"resolve":{"scale":{"x":"independent"},"axis":{"x":"independent","y":"independent"}}},
{"width":361,"height":348,"title":{"text":"AKAP12 (F-score=65.79,p=2.22e-24)"},"data":{"name":"violin"},"transform":[{"filter":"datum.gene === 'AKAP12'"}],
"layer":[
{"mark":{"type":"point","opacity":0},"encoding":{"x":{"field":"subtype","type":"nominal","scale":{"type":"point","padding":0.6,"range":[0,369],"domain":["TMEsubtype-H","TMEsubtype-M","TMEsubtype-L"]},"axis":{"title":null,"labelAngle":0,"grid":true}},"y":{"field":"value","type":"quantitative","scale":{"domain":[4.08,10.9],"nice":false,"zero":false},"axis":{"title":null,"values":[6,8,10],"grid":true}}}},
{"transform":[{"filter":"datum.subtype === 'TMEsubtype-H'"}],"mark":{"type":"area","orient":"horizontal","interpolate":"monotone","fill":"#A4A4A4","stroke":"#8B0000","strokeWidth":1.5},"encoding":{"x":{"field":"density","type":"quantitative","stack":"center","scale":{"domain":[-0.1475,3.0525],"range":[0,369],"nice":false,"zero":false},"axis":null},"y":{"field":"value","type":"quantitative","scale":{"domain":[4.08,10.9],"nice":false,"zero":false},"axis":{"orient":"right","title":null,"values":[5,7,9],"grid":true,"gridWidth":0.75,"labels":false,"ticks":false}}}},
{"transform":[{"filter":"datum.subtype === 'TMEsubtype-M'"}],"mark":{"type":"area","orient":"horizontal","interpolate":"monotone","fill":"#A4A4A4","stroke":"#8B0000","strokeWidth":1.5},"encoding":{"x":{"field":"density","type":"quantitative","stack":"center","scale":{"domain":[-1.2,2.0],"range":[0,369],"nice":false,"zero":false},"axis":null},"y":{"field":"value","type":"quantitative","scale":{"domain":[4.08,10.9],"nice":false,"zero":false},"axis":null}}},
{"transform":[{"filter":"datum.subtype === 'TMEsubtype-L'"}],"mark":{"type":"area","orient":"horizontal","interpolate":"monotone","fill":"#A4A4A4","stroke":"#8B0000","strokeWidth":1.5},"encoding":{"x":{"field":"density","type":"quantitative","stack":"center","scale":{"domain":[-2.145,1.055],"range":[0,369],"nice":false,"zero":false},"axis":null},"y":{"field":"value","type":"quantitative","scale":{"domain":[4.08,10.9],"nice":false,"zero":false},"axis":null}}}
],"resolve":{"scale":{"x":"independent"},"axis":{"x":"independent","y":"independent"}}}
]}
]
}],
"config":{
"font":"Liberation Sans",
"view":{"fill":"#EBEBEB","stroke":null},
"axis":{"labelFont":"Liberation Sans","labelFontSize":13,"labelColor":"#4D4D4D","tickColor":"#333333","tickSize":4.5,"tickWidth":1.1,"domain":false,"gridColor":"#FFFFFF","gridWidth":1.5,"labelOverlap":false},
"axisX":{"labelPadding":3},
"axisY":{"labelPadding":5},
"title":{"font":"Liberation Sans","fontSize":20,"fontWeight":"normal","color":"#000000","anchor":"start","frame":"group","offset":3,"baseline":"alphabetic"}
}
}
